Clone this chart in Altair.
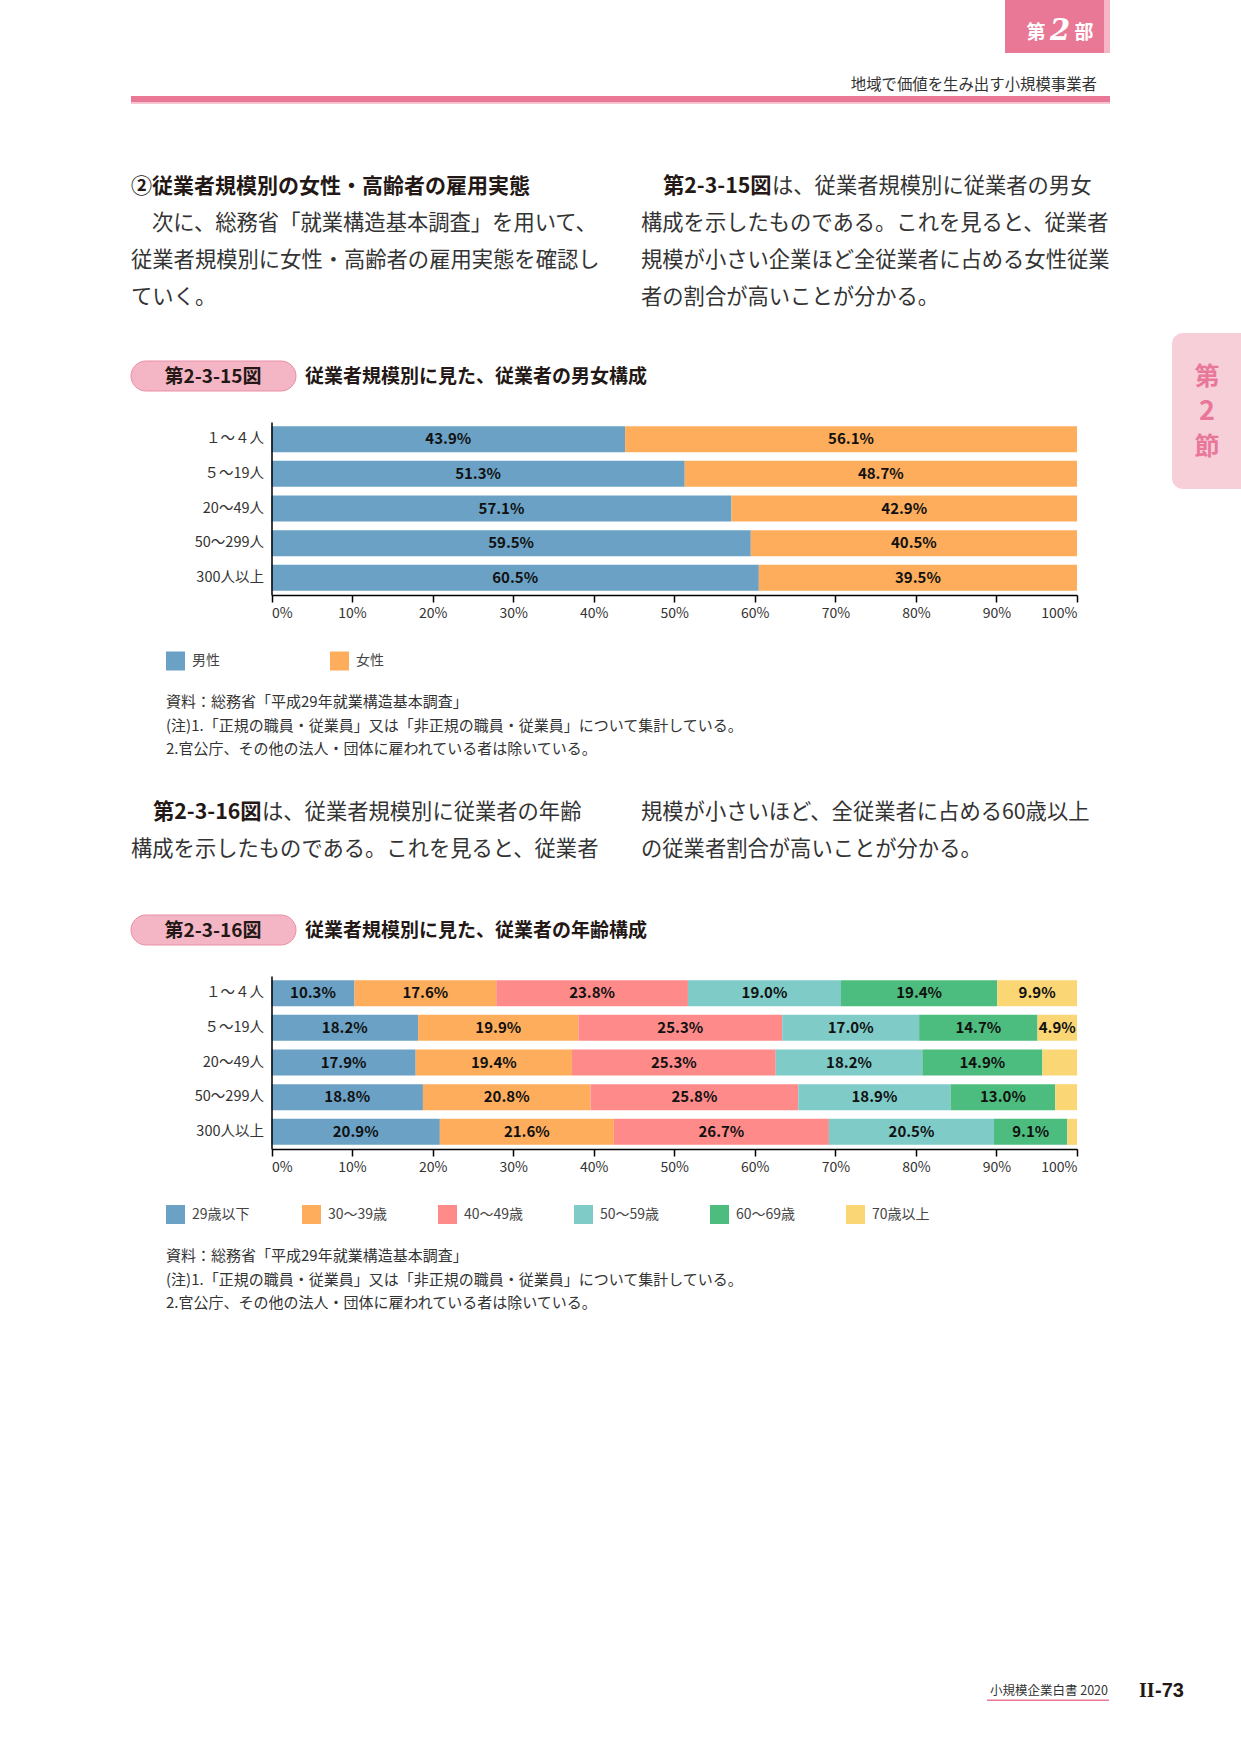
import altair as alt
import pandas as pd

FONT = "Noto Sans CJK JP"
PAGE_W, PAGE_H = 1241, 1754
PINK = "#e97796"
INK = "#231815"

# ---- data -------------------------------------------------------------
sizes = ["１～４人", "５～19人", "20～49人", "50～299人", "300人以上"]

sex_series = ["男性", "女性"]
male = [43.9, 51.3, 57.1, 59.5, 60.5]
female = [56.1, 48.7, 42.9, 40.5, 39.5]
sex_colors = ["#6aa1c5", "#fdad5c"]

age_series = ["29歳以下", "30～39歳", "40～49歳", "50～59歳", "60～69歳", "70歳以上"]
age_29_under = [10.3, 18.2, 17.9, 18.8, 20.9]
age_30s = [17.6, 19.9, 19.4, 20.8, 21.6]
age_40s = [23.8, 25.3, 25.3, 25.8, 26.7]
age_50s = [19.0, 17.0, 18.2, 18.9, 20.5]
age_60s = [19.4, 14.7, 14.9, 13.0, 9.1]
age_70_over = [9.9, 4.9, 4.3, 2.7, 1.2]
age_colors = ["#6aa1c5", "#fdad5c", "#ff8a8a", "#7ecbc8", "#4cbd7e", "#fad674"]

x_ticks = [0, 10, 20, 30, 40, 50, 60, 70, 80, 90, 100]

source_note = "資料：総務省「平成29年就業構造基本調査」"
note_1 = "(注)1.「正規の職員・従業員」又は「非正規の職員・従業員」について集計している。"
note_2 = "2.官公庁、その他の法人・団体に雇われている者は除いている。"


def long_table(series, columns):
    rows = []
    for k, (name, vals) in enumerate(zip(series, columns)):
        for size, v in zip(sizes, vals):
            rows.append({"size": size, "series": name, "k": k, "value": v})
    return pd.DataFrame(rows)


sex_df = long_table(sex_series, [male, female])
age_df = long_table(age_series, [age_29_under, age_30s, age_40s, age_50s, age_60s, age_70_over])

# ---- layout (page pixels) -------------------------------------------------
PLOT_L, PLOT_R = 271.5, 1077


def stacked_chart(df, series, colors, y_range, legend_y, col_pad):
    base = (
        alt.Chart(df)
        .transform_stack(
            stack="value",
            groupby=["size"],
            as_=["x0", "x1"],
            sort=[alt.SortField("k", order="ascending")],
        )
        .transform_calculate(
            mid="(datum.x0 + datum.x1) / 2",
            label="format(datum.value, '.1f') + '%'",
        )
    )
    xscale = alt.Scale(domain=[0, 100], range=[PLOT_L, PLOT_R], nice=False, zero=False)
    yscale = alt.Scale(domain=sizes, range=list(y_range), paddingInner=0.25, paddingOuter=0.12)
    bars = base.mark_bar(strokeWidth=0).encode(
        x=alt.X(
            "x0:Q",
            scale=xscale,
            axis=alt.Axis(
                orient="bottom",
                offset=y_range[1] - PAGE_H,
                values=x_ticks,
                labelExpr="datum.value + '%'",
                title="",
                grid=False,
                domainColor="#000",
                domainWidth=1.5,
                tickColor="#000",
                tickWidth=1.5,
                tickSize=7,
                labelFont=FONT,
                labelFontSize=14,
                labelColor="#333",
                labelPadding=4,
                labelFlush=True,
                zindex=2,
            ),
        ),
        x2="x1:Q",
        y=alt.Y(
            "size:N",
            sort=sizes,
            scale=yscale,
            axis=alt.Axis(
                orient="left",
                offset=-PLOT_L,
                title="",
                ticks=False,
                grid=False,
                domainColor="#000",
                domainWidth=1.5,
                labelFont=FONT,
                labelFontSize=14.5,
                labelColor="#333",
                labelPadding=8,
                zindex=2,
            ),
        ),
        color=alt.Color(
            "series:N",
            scale=alt.Scale(domain=series, range=colors),
            legend=alt.Legend(
                orient="none",
                legendX=166,
                legendY=legend_y,
                direction="horizontal",
                columns=len(series),
                title=None,
                symbolType="square",
                symbolSize=361,
                symbolStrokeWidth=0,
                labelFont=FONT,
                labelFontSize=14,
                labelColor="#444",
                labelOffset=7,
                columnPadding=col_pad,
                gridAlign="all",
                padding=0,
            ),
        ),
    )
    # value labels share the bars' scales (and therefore their axes)
    labels = (
        base.transform_filter("datum.value >= 4.5")
        .mark_text(font=FONT, fontSize=15, fontWeight="bold", color="#111", baseline="middle", align="center")
        .encode(
            x=alt.X("mid:Q", scale=xscale),
            y=alt.Y("size:N", sort=sizes, scale=yscale),
            text="label:N",
        )
    )
    return alt.layer(bars, labels)


# ---- page furniture ---------------------------------------------------------
page = alt.Data(values=[{}])


def txt(s, x, y, size, weight="normal", color="#333", align="left", italic=False, font=FONT):
    kw = dict(font=font, fontSize=size, fontWeight=weight, color=color, align=align, baseline="middle")
    if italic:
        kw["fontStyle"] = "italic"
    return alt.Chart(page).mark_text(**kw).encode(
        x=alt.value(x), y=alt.value(y), text=alt.value(s)
    )


def box(x0, x1, y0, y1, color, **kw):
    return alt.Chart(page).mark_rect(color=color, **kw).encode(
        x=alt.value(x0), x2=alt.value(x1), y=alt.value(y0), y2=alt.value(y1)
    )


BODY = 21.3
furniture = [
    # header
    box(1005, 1104, 0, 53, PINK),
    box(1104, 1110, 0, 53, "#f5b7c6"),
    txt("第", 1036, 33, 19, "bold", "#fff", "center"),
    txt("2", 1060, 31, 29, "bold", "#fff", "center", italic=True, font="DejaVu Serif"),
    txt("部", 1084, 33, 19, "bold", "#fff", "center"),
    txt("地域で価値を生み出す小規模事業者", 1097, 85, 15.4, color="#333", align="right"),
    box(131, 1110, 96, 102.5, PINK),
    box(131, 1110, 102.5, 104, "#f6c6d2"),
    # side tab
    box(1172, 1241, 333, 489, "#f7cfd9", cornerRadiusTopLeft=11, cornerRadiusBottomLeft=11),
    txt("第", 1207, 377, 25, "bold", "#e8779a", "center"),
    txt("2", 1207, 412, 27, "bold", "#e8779a", "center"),
    txt("節", 1207, 447, 25, "bold", "#e8779a", "center"),
    # opening paragraph, left column
    txt("②従業者規模別の女性・高齢者の雇用実態", 131, 187, 21, "bold", INK),
    txt("次に、総務省「就業構造基本調査」を用いて、", 152, 224, BODY, color="#333"),
    txt("従業者規模別に女性・高齢者の雇用実態を確認し", 131, 261, BODY, color="#333"),
    txt("ていく。", 131, 298, BODY, color="#333"),
    # opening paragraph, right column
    txt("第2-3-15図", 663, 187, BODY, "bold", INK),
    txt("は、従業者規模別に従業者の男女", 772, 187, BODY, color="#333"),
    txt("構成を示したものである。これを見ると、従業者", 641, 224, BODY, color="#333"),
    txt("規模が小さい企業ほど全従業者に占める女性従業", 641, 261, BODY, color="#333"),
    txt("者の割合が高いことが分かる。", 641, 298, BODY, color="#333"),
    # figure 2-3-15 heading
    box(131, 296, 361, 391, "#f4b5c4", cornerRadius=15, stroke="#ea8fa8", strokeWidth=1),
    txt("第2-3-15図", 213, 376.5, 19, "bold", INK, "center"),
    txt("従業者規模別に見た、従業者の男女構成", 305, 376.5, 19, "bold", INK),
    # figure 2-3-15 notes
    txt(source_note, 166, 702, 15, color="#333"),
    txt(note_1, 166, 726, 15, color="#333"),
    txt(note_2, 166, 749, 15, color="#333"),
    # middle paragraph
    txt("第2-3-16図", 153, 813, BODY, "bold", INK),
    txt("は、従業者規模別に従業者の年齢", 262, 813, BODY, color="#333"),
    txt("構成を示したものである。これを見ると、従業者", 131, 850, BODY, color="#333"),
    txt("規模が小さいほど、全従業者に占める60歳以上", 641, 813, BODY, color="#333"),
    txt("の従業者割合が高いことが分かる。", 641, 850, BODY, color="#333"),
    # figure 2-3-16 heading
    box(131, 296, 915, 945, "#f4b5c4", cornerRadius=15, stroke="#ea8fa8", strokeWidth=1),
    txt("第2-3-16図", 213, 930.5, 19, "bold", INK, "center"),
    txt("従業者規模別に見た、従業者の年齢構成", 305, 930.5, 19, "bold", INK),
    # figure 2-3-16 notes
    txt(source_note, 166, 1256, 15, color="#333"),
    txt(note_1, 166, 1280, 15, color="#333"),
    txt(note_2, 166, 1303, 15, color="#333"),
    # footer
    txt("小規模企業白書  2020", 1108, 1691, 12.5, color="#333", align="right"),
    box(987, 1109, 1699.5, 1701, PINK),
    txt("II", 1139, 1691, 20, "bold", INK, font="Liberation Serif"),
    txt("-73", 1155, 1691, 20, "bold", INK, font="Liberation Sans"),
]

sex_chart = stacked_chart(sex_df, sex_series, sex_colors, (422, 595), 651.5, 110)
age_chart = stacked_chart(age_df, age_series, age_colors, (976, 1149), 1205, 50)

chart = (
    alt.layer(*furniture, sex_chart, age_chart)
    .resolve_scale(x="independent", y="independent", color="independent")
    .resolve_axis(x="independent", y="independent")
    .resolve_legend(color="independent")
    .properties(
        width=PAGE_W,
        height=PAGE_H,
        autosize=alt.AutoSizeParams(type="none"),
        padding=0,
        background="#ffffff",
    )
    .configure_view(stroke=None)
)

chart.save("out.html", embed_options={"renderer": "svg", "actions": False})
